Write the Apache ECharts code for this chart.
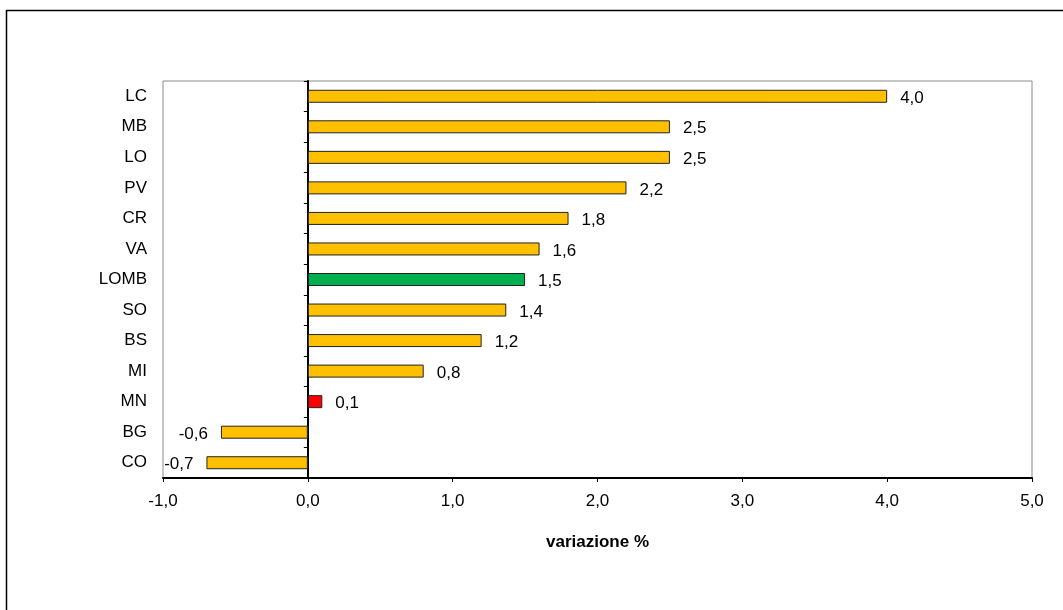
<!DOCTYPE html>
<html>
<head>
<meta charset="utf-8">
<script src="https://cdn.jsdelivr.net/npm/echarts@6/dist/echarts.min.js"></script>
<style>
  html, body { margin: 0; padding: 0; background: #fff; }
  #chart { width: 1063px; height: 610px; }
</style>
</head>
<body>
<div id="chart"></div>
<script>
// Province codes, top to bottom
const categories = ['LC', 'MB', 'LO', 'PV', 'CR', 'VA', 'LOMB', 'SO', 'BS', 'MI', 'MN', 'BG', 'CO'];
// Percentage change per province
const values = [4.0, 2.5, 2.5, 2.2, 1.8, 1.6, 1.5, 1.37, 1.2, 0.8, 0.1, -0.6, -0.7];
// Value axis tick labels
const xTicks = [-1, 0, 1, 2, 3, 4, 5];

const FONT = 'Liberation Sans, Arial, sans-serif';
const FS = 17;
const fmt = v => v.toFixed(1).replace('.', ',');

// Regional total in green, Mantova in red, the rest in amber
const specialColors = { LOMB: '#00B050', MN: '#FF0000' };
const barColor = name => specialColors[name] || '#FFC000';

const seriesData = values.map((v, i) => ({
  value: v,
  itemStyle: { color: barColor(categories[i]) },
  label: { position: v < 0 ? 'left' : 'right' }
}));

const chart = echarts.init(document.getElementById('chart'));
chart.setOption({
  animation: false,
  textStyle: { fontFamily: FONT },
  graphic: [{
    type: 'rect',
    shape: { x: 6.5, y: 10.5, width: 1100, height: 700 },
    style: { fill: 'none', stroke: '#000', lineWidth: 1.5 },
    silent: true
  }],
  grid: {
    left: 163, top: 81, right: 31, bottom: 132,
    show: true, borderColor: '#8c8c8c', borderWidth: 1, backgroundColor: 'transparent'
  },
  xAxis: {
    type: 'value',
    min: xTicks[0], max: xTicks[xTicks.length - 1], interval: 1,
    axisLine: { show: true, onZero: false, lineStyle: { color: '#000', width: 2 } },
    axisTick: { show: true, length: 4, lineStyle: { color: '#000' } },
    splitLine: { show: false },
    axisLabel: { formatter: v => fmt(v), fontSize: FS, color: '#000', margin: 15, fontFamily: FONT },
    name: 'variazione %',
    nameLocation: 'middle',
    nameGap: 56,
    nameTextStyle: { fontWeight: 'bold', fontSize: FS, color: '#000', fontFamily: FONT }
  },
  yAxis: [{
    type: 'category',
    data: categories,
    inverse: true,
    position: 'left',
    axisLine: { show: true, onZero: true, lineStyle: { color: '#000', width: 2 } },
    axisTick: { show: true, length: 4, alignWithLabel: false, lineStyle: { color: '#000' } },
    axisLabel: { show: false },
    splitLine: { show: false }
  }, {
    type: 'category',
    data: categories,
    inverse: true,
    position: 'left',
    axisLine: { show: false, onZero: false },
    axisTick: { show: false },
    axisLabel: { fontSize: FS, color: '#000', margin: 16, fontFamily: FONT, padding: [4, 0, 0, 0] },
    splitLine: { show: false }
  }],
  series: [{
    type: 'bar',
    yAxisIndex: 0,
    barWidth: 13,
    data: seriesData,
    itemStyle: { borderColor: '#222', borderWidth: 1 },
    label: {
      show: true,
      distance: 13,
      offset: [0, 2],
      fontSize: FS,
      color: '#000',
      fontFamily: FONT,
      formatter: p => fmt(p.value)
    }
  }]
});
</script>
</body>
</html>
